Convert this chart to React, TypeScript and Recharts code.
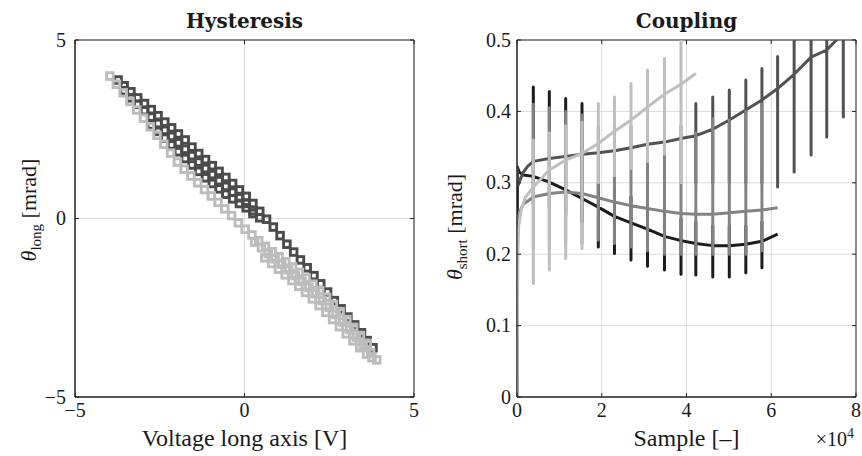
import React from 'react';
import {
  ScatterChart,
  Scatter,
  LineChart,
  Line,
  XAxis,
  YAxis,
  CartesianGrid,
  ReferenceArea,
} from 'recharts';

// ---------------- Hysteresis data ----------------
const HYST_TICKS = [-5, 0, 5];

const DARK_ROW1_X = [-3.73, -3.55, -3.35, -3.15, -2.95, -2.75, -2.55, -2.35, -2.15, -1.95, -1.75, -1.55, -1.35, -1.15, -0.95, -0.75, -0.55, -0.35, -0.15, 0.05, 0.25, 0.45, 0.65, 0.85, 1.05, 1.25, 1.45, 1.65, 1.85, 2.05, 2.25, 2.45, 2.65, 2.85, 3.05, 3.25, 3.45, 3.62, 3.79];
const DARK_ROW1_Y = [3.88, 3.72, 3.55, 3.38, 3.22, 3.05, 2.88, 2.7, 2.54, 2.37, 2.2, 2.0, 1.82, 1.65, 1.48, 1.32, 1.15, 0.98, 0.8, 0.62, 0.42, 0.2, -0.02, -0.24, -0.48, -0.72, -0.94, -1.16, -1.38, -1.6, -1.83, -2.06, -2.3, -2.53, -2.76, -2.98, -3.2, -3.42, -3.62];

const DARK_ROW2_X = [-3.55, -3.35, -3.15, -2.95, -2.75, -2.55, -2.35, -2.15, -1.95, -1.75, -1.55, -1.35, -1.15, -0.95, -0.75, -0.55, -0.35, -0.15, 0.05, 0.25, 0.45];
const DARK_ROW2_Y = [3.58, 3.38, 3.2, 3.02, 2.84, 2.66, 2.47, 2.3, 2.12, 1.94, 1.76, 1.58, 1.4, 1.23, 1.06, 0.9, 0.74, 0.58, 0.42, 0.22, 0.02];

const DARK_ROW3_X = [-2.75, -2.55, -2.35, -2.15, -1.95, -1.75, -1.55, -1.35, -1.15, -0.95, -0.75, -0.55, -0.35, -0.15, 0.05, 0.25];
const DARK_ROW3_Y = [2.62, 2.44, 2.25, 2.06, 1.87, 1.68, 1.5, 1.32, 1.14, 0.98, 0.83, 0.68, 0.55, 0.42, 0.3, 0.14];

const LIGHT_ROW1_X = [-3.97, -3.78, -3.58, -3.38, -3.18, -2.98, -2.78, -2.58, -2.38, -2.18, -1.98, -1.78, -1.58, -1.38, -1.18, -0.98, -0.78, -0.58, -0.38, -0.18, 0.02, 0.22, 0.42, 0.62, 0.82, 1.02, 1.22, 1.42, 1.62, 1.82, 2.02, 2.22, 2.42, 2.62, 2.82, 3.02, 3.22, 3.42, 3.62];
const LIGHT_ROW1_Y = [3.99, 3.76, 3.52, 3.28, 3.04, 2.81, 2.57, 2.33, 2.08, 1.83, 1.58, 1.38, 1.19, 1.0, 0.81, 0.63, 0.45, 0.27, 0.08, -0.12, -0.3, -0.46, -0.62, -0.78, -0.93, -1.07, -1.21, -1.36, -1.51, -1.67, -1.84, -2.02, -2.21, -2.41, -2.61, -2.83, -3.05, -3.28, -3.5];

const LIGHT_ROW2_X = [0.3, 0.5, 0.7, 0.9, 1.1, 1.3, 1.5, 1.7, 1.9, 2.1, 2.3, 2.5, 2.7, 2.9, 3.1, 3.3, 3.5, 3.72];
const LIGHT_ROW2_Y = [-0.66, -0.82, -0.98, -1.13, -1.28, -1.44, -1.6, -1.76, -1.93, -2.11, -2.3, -2.49, -2.69, -2.9, -3.11, -3.33, -3.55, -3.76];

const LIGHT_ROW3_X = [0.6, 0.8, 1.0, 1.2, 1.4, 1.6, 1.8, 2.0, 2.2, 2.4, 2.6, 2.8, 3.0, 3.2, 3.4, 3.6, 3.76, 3.9];
const LIGHT_ROW3_Y = [-1.1, -1.26, -1.42, -1.58, -1.74, -1.9, -2.07, -2.25, -2.44, -2.63, -2.83, -3.03, -3.23, -3.43, -3.62, -3.8, -3.9, -3.96];

// ---------------- Coupling data ----------------
const COUP_X_TICKS = [0, 20000, 40000, 60000, 80000];
const COUP_Y_TICKS = [0, 0.1, 0.2, 0.3, 0.4, 0.5];

const SPIKE_X = [3850, 7630, 11490, 15340, 19190, 23000, 26900, 30800, 34800, 38700, 42200, 46200, 50100, 54000, 57800, 61500, 65400, 69400, 73100, 77000];

// black series
const A_X = [0, 0, 100, 500, 1500, 3850, 7630, 11490, 15340, 19190, 23000, 26900, 30800, 34800, 38700, 42200, 46200, 50100, 54000, 57800, 61500];
const A_Y = [0.0, 0.035, 0.322, 0.315, 0.311, 0.309, 0.301, 0.29, 0.278, 0.266, 0.253, 0.244, 0.235, 0.225, 0.219, 0.215, 0.212, 0.212, 0.214, 0.218, 0.228];
const A_TOP = [0.434, 0.428, 0.418, 0.411, 0.3, 0.29, 0.28, 0.27, 0.26, 0.25, 0.245, 0.24, 0.24, 0.24, 0.245, null, null, null, null, null];
const A_BOT = [0.27, 0.265, 0.255, 0.245, 0.21, 0.201, 0.192, 0.183, 0.178, 0.172, 0.171, 0.168, 0.168, 0.174, 0.181, null, null, null, null, null];

// mid-gray series
const B_X = [0, 500, 1500, 3850, 7630, 11490, 15340, 19190, 23000, 26900, 30800, 34800, 38700, 42200, 46200, 50100, 54000, 57800, 61500];
const B_Y = [0.245, 0.258, 0.27, 0.28, 0.285, 0.287, 0.285, 0.279, 0.273, 0.268, 0.264, 0.26, 0.257, 0.256, 0.256, 0.258, 0.26, 0.262, 0.265];
const B_TOP = [0.41, 0.405, 0.4, 0.395, 0.38, 0.38, 0.38, 0.38, 0.38, 0.38, 0.37, 0.39, 0.388, 0.4, 0.41, null, null, null, null, null];
const B_BOT = [0.21, 0.21, 0.215, 0.215, 0.22, 0.215, 0.21, 0.205, 0.2, 0.2, 0.2, 0.2, 0.2, 0.2, 0.205, null, null, null, null, null];

// light-gray series
const C_X = [0, 100, 200, 400, 1000, 2000, 3850, 7630, 11490, 15340, 19190, 23000, 26900, 30800, 34800, 38700, 42200];
const C_Y = [0.0, 0.12, 0.2, 0.24, 0.262, 0.28, 0.294, 0.318, 0.332, 0.341, 0.355, 0.372, 0.388, 0.406, 0.424, 0.438, 0.453];
const C_TOP = [0.36, 0.37, 0.38, 0.385, 0.411, 0.42, 0.439, 0.458, 0.474, 0.53, null, null, null, null, null, null, null, null, null, null];
const C_BOT = [0.159, 0.178, 0.194, 0.208, 0.3, 0.31, 0.32, 0.33, 0.34, 0.3, null, null, null, null, null, null, null, null, null, null];

// dark-gray series
const D_X = [0, 300, 800, 1500, 2500, 3850, 7630, 11490, 15340, 19190, 23000, 26900, 30800, 34800, 38700, 42200, 46200, 50100, 54000, 57800, 61500, 65400, 69400, 73100, 77000, 80000];
const D_Y = [0.322, 0.297, 0.305, 0.315, 0.323, 0.33, 0.334, 0.337, 0.34, 0.342, 0.345, 0.349, 0.354, 0.357, 0.362, 0.366, 0.375, 0.388, 0.402, 0.416, 0.432, 0.452, 0.476, 0.486, 0.51, 0.53];
const D_TOP = [null, null, null, null, null, null, null, null, null, null, 0.411, 0.42, 0.43, 0.444, 0.46, 0.477, 0.56, 0.58, 0.6, 0.62];
const D_BOT = [null, null, null, null, null, null, null, null, null, null, 0.3, 0.3, 0.3, 0.3, 0.3, 0.294, 0.315, 0.339, 0.364, 0.392];

// ---------------- helpers ----------------
type Pt = { x: number; y: number };
const pairs = (xs: number[], ys: number[]): Pt[] => xs.map((x, i) => ({ x, y: ys[i] }));
const withSpikes = (xs: number[], ys: number[], tops: (number | null)[], bots: (number | null)[]): Pt[] => {
  const out: Pt[] = [];
  xs.forEach((x, i) => {
    out.push({ x, y: ys[i] });
    const k = SPIKE_X.indexOf(x);
    if (k >= 0 && tops[k] != null && bots[k] != null) {
      out.push({ x, y: tops[k] as number }, { x, y: bots[k] as number }, { x, y: ys[i] });
    }
  });
  return out;
};

const DARK_DATA = [
  ...pairs(DARK_ROW1_X, DARK_ROW1_Y),
  ...pairs(DARK_ROW2_X, DARK_ROW2_Y),
  ...pairs(DARK_ROW3_X, DARK_ROW3_Y),
];
const LIGHT_DATA = [
  ...pairs(LIGHT_ROW1_X, LIGHT_ROW1_Y),
  ...pairs(LIGHT_ROW2_X, LIGHT_ROW2_Y),
  ...pairs(LIGHT_ROW3_X, LIGHT_ROW3_Y),
];
const A_DATA = withSpikes(A_X, A_Y, A_TOP, A_BOT);
const B_DATA = withSpikes(B_X, B_Y, B_TOP, B_BOT);
const C_DATA = withSpikes(C_X, C_Y, C_TOP, C_BOT);
const D_DATA = withSpikes(D_X, D_Y, D_TOP, D_BOT);

const FONT = '"Liberation Serif", "Times New Roman", serif';
const TITLE_FONT = '"DejaVu Serif", serif';
const AXIS = '#262626';
const GRID = '#dcdcdc';
const TXT = '#1a1a1a';

const fmtSigned = (v: number) => (v < 0 ? '\u2212' + Math.abs(v) : String(v));

const square = (color: string) => (p: any) => (
  <rect x={p.cx - 3.3} y={p.cy - 3.3} width={6.6} height={6.6} fill="none" stroke={color} strokeWidth={2.9} />
);

// plot box constants (local to each chart)
const TOP = 40;
const BOTTOM = 397;

const makeXTick = (fmt: (v: number) => string) => (p: any) => {
  const cx = p.payload && typeof p.payload.coordinate === 'number' ? p.payload.coordinate : p.x;
  return (
    <g>
      <line x1={cx} x2={cx} y1={BOTTOM} y2={BOTTOM - 4} stroke={AXIS} strokeWidth={1} />
      <line x1={cx} x2={cx} y1={TOP} y2={TOP + 4} stroke={AXIS} strokeWidth={1} />
      <text x={cx} y={417} textAnchor="middle" fontFamily={FONT} fontSize={20} fill={TXT}>
        {fmt(p.payload.value)}
      </text>
    </g>
  );
};
const makeYTick = (fmt: (v: number) => string, left: number, right: number, labelX: number) => (p: any) => {
  const cy = p.payload && typeof p.payload.coordinate === 'number' ? p.payload.coordinate : p.y;
  return (
    <g>
      <line x1={left} x2={left + 4} y1={cy} y2={cy} stroke={AXIS} strokeWidth={1} />
      <line x1={right} x2={right - 4} y1={cy} y2={cy} stroke={AXIS} strokeWidth={1} />
      <text x={labelX} y={cy} dy="0.33em" textAnchor="end" fontFamily={FONT} fontSize={20} fill={TXT}>
        {fmt(p.payload.value)}
      </text>
    </g>
  );
};

export default function App() {
  return (
    <div style={{ position: 'absolute', left: 0, top: 0, width: 862, height: 456, background: '#fff' }}>
      <div style={{ position: 'absolute', left: 0, top: 0 }}>
        <ScatterChart width={431} height={456} margin={{ top: 40, right: 17, bottom: 0, left: 0 }}>
          <CartesianGrid stroke={GRID} />
          <XAxis
            type="number"
            dataKey="x"
            domain={[-5, 5]}
            ticks={HYST_TICKS}
            interval={0}
            allowDataOverflow
            height={59}
            tickLine={false}
            tickSize={0}
            tickMargin={0}
            axisLine={{ stroke: AXIS }}
            tick={makeXTick(fmtSigned)}
          />
          <YAxis
            type="number"
            dataKey="y"
            domain={[-5, 5]}
            ticks={HYST_TICKS}
            interval={0}
            allowDataOverflow
            width={75}
            tickLine={false}
            tickSize={0}
            tickMargin={0}
            axisLine={{ stroke: AXIS }}
            tick={makeYTick(fmtSigned, 75, 414, 66)}
          />
          <ReferenceArea x1={-5} x2={5} y1={-5} y2={5} fill="none" fillOpacity={0} stroke={AXIS} strokeWidth={1} />
          <Scatter data={DARK_DATA} shape={square('#4b4b4b')} isAnimationActive={false} />
          <Scatter data={LIGHT_DATA} shape={square('#bcbcbc')} isAnimationActive={false} />
        </ScatterChart>
      </div>
      <div style={{ position: 'absolute', left: 431, top: 0 }}>
        <LineChart width={431} height={456} margin={{ top: 40, right: 6, bottom: 0, left: 0 }}>
          <CartesianGrid stroke={GRID} />
          <XAxis
            type="number"
            dataKey="x"
            domain={[0, 80000]}
            ticks={COUP_X_TICKS}
            interval={0}
            allowDataOverflow
            height={59}
            tickLine={false}
            tickSize={0}
            tickMargin={0}
            axisLine={{ stroke: AXIS }}
            tick={makeXTick((v) => String(v / 10000))}
          />
          <YAxis
            type="number"
            dataKey="y"
            domain={[0, 0.5]}
            ticks={COUP_Y_TICKS}
            interval={0}
            allowDataOverflow
            width={86}
            tickLine={false}
            tickSize={0}
            tickMargin={0}
            axisLine={{ stroke: AXIS }}
            tick={makeYTick((v) => (v === 0 ? '0' : v.toFixed(1)), 86, 425, 80)}
          />
          <ReferenceArea x1={0} x2={80000} y1={0} y2={0.5} fill="none" fillOpacity={0} stroke={AXIS} strokeWidth={1} />
          <Line data={A_DATA} dataKey="y" stroke="#1c1c1c" strokeWidth={3} dot={false} activeDot={false} isAnimationActive={false} strokeLinejoin="round" type="linear" />
          <Line data={D_DATA} dataKey="y" stroke="#525252" strokeWidth={3} dot={false} activeDot={false} isAnimationActive={false} strokeLinejoin="round" type="linear" />
          <Line data={B_DATA} dataKey="y" stroke="#838383" strokeWidth={3} dot={false} activeDot={false} isAnimationActive={false} strokeLinejoin="round" type="linear" />
          <Line data={C_DATA} dataKey="y" stroke="#bfbfbf" strokeWidth={3} dot={false} activeDot={false} isAnimationActive={false} strokeLinejoin="round" type="linear" />
        </LineChart>
      </div>
      <svg width={862} height={456} style={{ position: 'absolute', left: 0, top: 0, pointerEvents: 'none' }}>
        <text x={244.5} y={28} textAnchor="middle" fontFamily={TITLE_FONT} fontWeight="bold" fontSize={20} fill={TXT}>Hysteresis</text>
        <text x={686.5} y={28} textAnchor="middle" fontFamily={TITLE_FONT} fontWeight="bold" fontSize={20} fill={TXT}>Coupling</text>
        <text x={244.5} y={446} textAnchor="middle" fontFamily={FONT} fontSize={24} fill={TXT}>Voltage long axis [V]</text>
        <text x={686.5} y={446} textAnchor="middle" fontFamily={FONT} fontSize={24} fill={TXT}>Sample [–]</text>
        <text x={854} y={446} textAnchor="end" fontFamily={FONT} fontSize={20} fill={TXT}>
          ×10<tspan fontSize={14} dy={-8}>4</tspan>
        </text>
        <text x={36} y={210} transform="rotate(-90, 36, 210)" textAnchor="middle" fontFamily={FONT} fontSize={22} fill={TXT}>
          <tspan fontStyle="italic">θ</tspan>
          <tspan fontSize={15} dy={5}>long</tspan>
          <tspan dy={-5}> [mrad]</tspan>
        </text>
        <text x={462} y={227} transform="rotate(-90, 462, 227)" textAnchor="middle" fontFamily={FONT} fontSize={22} fill={TXT}>
          <tspan fontStyle="italic">θ</tspan>
          <tspan fontSize={15} dy={5}>short</tspan>
          <tspan dy={-5}> [mrad]</tspan>
        </text>
      </svg>
    </div>
  );
}
